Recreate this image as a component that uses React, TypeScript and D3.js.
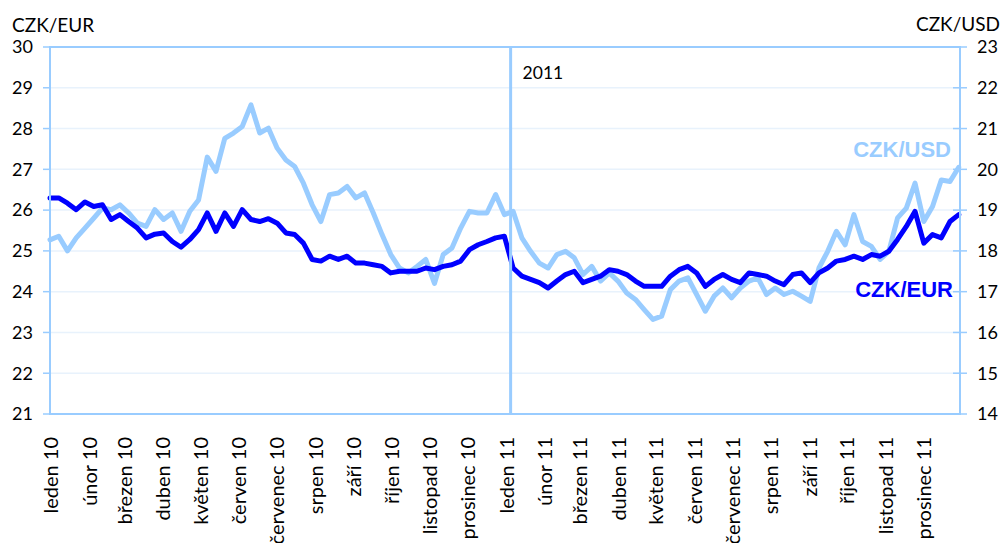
import React from "react";
import * as d3 from "d3";

const START = new Date(2010, 0, 1);
const END = new Date(2011, 11, 31);
const STEP_DAYS = 7;

const monthLabels = [
  "leden 10", "únor 10", "březen 10", "duben 10", "květen 10", "červen 10",
  "červenec 10", "srpen 10", "září 10", "říjen 10", "listopad 10", "prosinec 10",
  "leden 11", "únor 11", "březen 11", "duben 11", "květen 11", "červen 11",
  "červenec 11", "srpen 11", "září 11", "říjen 11", "listopad 11", "prosinec 11",
];

const leftTicks = [21, 22, 23, 24, 25, 26, 27, 28, 29, 30];
const rightTicks = [14, 15, 16, 17, 18, 19, 20, 21, 22, 23];

// weekly CZK/EUR (left axis)
const czkEur = [
  26.30, 26.30, 26.17, 26.01, 26.20, 26.09, 26.13, 25.77, 25.89, 25.72,
  25.56, 25.32, 25.41, 25.44, 25.23, 25.09, 25.28, 25.52, 25.93, 25.48,
  25.93, 25.60, 26.01, 25.77, 25.72, 25.79, 25.68, 25.44, 25.40, 25.19,
  24.79, 24.75, 24.87, 24.79, 24.87, 24.70, 24.70, 24.66, 24.62, 24.46,
  24.50, 24.50, 24.50, 24.58, 24.54, 24.62, 24.66, 24.75, 25.03, 25.15,
  25.23, 25.32, 25.36, 24.58, 24.38, 24.30, 24.22, 24.09, 24.26, 24.42,
  24.50, 24.22, 24.30, 24.38, 24.54, 24.50, 24.42, 24.26, 24.13, 24.13,
  24.13, 24.38, 24.54, 24.62, 24.46, 24.13, 24.30, 24.42, 24.30, 24.22,
  24.46, 24.42, 24.38, 24.26, 24.17, 24.42, 24.46, 24.22, 24.46, 24.58,
  24.75, 24.79, 24.87, 24.79, 24.91, 24.87, 24.99, 25.28, 25.60, 25.97,
  25.19, 25.40, 25.32, 25.72, 25.89,
];

// weekly CZK/USD (right axis)
const czkUsd = [
  18.27, 18.36, 18.00, 18.32, 18.56, 18.80, 19.05, 19.01, 19.13, 18.93,
  18.68, 18.60, 19.01, 18.77, 18.93, 18.48, 18.97, 19.25, 20.30, 19.95,
  20.76, 20.89, 21.05, 21.58, 20.89, 21.01, 20.52, 20.23, 20.07, 19.66,
  19.13, 18.72, 19.38, 19.42, 19.58, 19.30, 19.42, 18.93, 18.40, 17.91,
  17.58, 17.46, 17.62, 17.79, 17.20, 17.91, 18.07, 18.56, 18.97, 18.93,
  18.93, 19.38, 18.89, 18.97, 18.32, 17.99, 17.70, 17.58, 17.91, 17.99,
  17.83, 17.42, 17.62, 17.26, 17.46, 17.26, 16.97, 16.81, 16.56, 16.32,
  16.40, 17.05, 17.26, 17.34, 16.93, 16.52, 16.89, 17.09, 16.85, 17.09,
  17.26, 17.34, 16.93, 17.09, 16.93, 17.01, 16.89, 16.76, 17.58, 17.99,
  18.48, 18.15, 18.89, 18.23, 18.11, 17.79, 17.99, 18.81, 19.05, 19.66,
  18.72, 19.09, 19.74, 19.70, 20.05,
];

const W = 1002;
const H = 543;
const PL = 50;
const PR = 960;
const PT = 47;
const PB = 414;

const AXIS = "#99ccff";
const GRID = "#e8f2fc";
const EUR_COLOR = "#0000ff";
const USD_COLOR = "#99ccff";
const FONT = "Lato, 'Open Sans', sans-serif";
const BOLD = "'Liberation Sans', Arial, sans-serif";

export default function App() {
  const x = d3.scaleTime().domain([START, END]).range([PL, PR]);
  const yL = d3.scaleLinear().domain([21, 30]).range([PB, PT]);
  const yR = d3.scaleLinear().domain([14, 23]).range([PB, PT]);

  const dateAt = (i: number) => d3.timeDay.offset(START, i * STEP_DAYS);

  const eurLine = d3
    .line<number>()
    .x((_, i) => x(dateAt(i)))
    .y((d) => yL(d));
  const usdLine = d3
    .line<number>()
    .x((_, i) => x(dateAt(i)))
    .y((d) => yR(d));

  const months = monthLabels.map((label, i) => ({
    label,
    date: new Date(2010 + Math.floor(i / 12), i % 12, 1),
  }));

  const markerX = x(new Date(2011, 0, 5));

  return (
    <svg
      width={W}
      height={H}
      style={{ position: "absolute", left: 0, top: 0, background: "#fff" }}
    >
      {/* gridlines */}
      {leftTicks
        .filter((t) => t > 21 && t < 30)
        .map((t) => (
          <line key={"g" + t} x1={PL} x2={PR} y1={yL(t)} y2={yL(t)} stroke={GRID} strokeWidth={1.5} />
        ))}

      {/* series */}
      <path d={usdLine(czkUsd) || ""} fill="none" stroke={USD_COLOR} strokeWidth={5} strokeLinejoin="round" strokeLinecap="round" />
      <path d={eurLine(czkEur) || ""} fill="none" stroke={EUR_COLOR} strokeWidth={5} strokeLinejoin="round" strokeLinecap="round" />

      {/* frame */}
      <rect x={PL} y={PT} width={PR - PL} height={PB - PT} fill="none" stroke={AXIS} strokeWidth={2} />

      {/* 2011 marker */}
      <line x1={markerX} x2={markerX} y1={PT} y2={PB} stroke={AXIS} strokeWidth={3} />
      <text x={markerX + 12} y={79} fontFamily={FONT} fontSize={17.5} fill="#000">2011</text>

      {/* left axis */}
      {leftTicks.map((t) => (
        <g key={"l" + t}>
          <line x1={43} x2={PL} y1={yL(t)} y2={yL(t)} stroke={AXIS} strokeWidth={1.5} />
          <text x={33} y={yL(t)} dy="0.35em" textAnchor="end" fontFamily={FONT} fontSize={18} fill="#000">
            {t}
          </text>
        </g>
      ))}
      <text x={12} y={32} fontFamily={FONT} fontSize={19} fill="#000">CZK/EUR</text>

      {/* right axis */}
      {rightTicks.map((t) => (
        <g key={"r" + t}>
          <line x1={953} x2={967} y1={yR(t)} y2={yR(t)} stroke={AXIS} strokeWidth={1.5} />
          <text x={977} y={yR(t)} dy="0.35em" textAnchor="start" fontFamily={FONT} fontSize={18} fill="#000">
            {t}
          </text>
        </g>
      ))}
      <text x={1000} y={31} textAnchor="end" fontFamily={FONT} fontSize={19} fill="#000">CZK/USD</text>

      {/* month labels */}
      {months.map((m) => {
        const mx = x(m.date) + 1;
        return (
          <text
            key={m.label}
            transform={`translate(${mx},437) rotate(-90)`}
            dy="0.35em"
            textAnchor="end"
            fontFamily={FONT}
            fontSize={20}
            fill="#000"
          >
            {m.label}
          </text>
        );
      })}

      {/* series labels */}
      <text x={951} y={157} textAnchor="end" fontFamily={BOLD} fontWeight="bold" fontSize={22} fill={USD_COLOR}>
        CZK/USD
      </text>
      <text x={953} y={297} textAnchor="end" fontFamily={BOLD} fontWeight="bold" fontSize={22} fill={EUR_COLOR}>
        CZK/EUR
      </text>
    </svg>
  );
}
